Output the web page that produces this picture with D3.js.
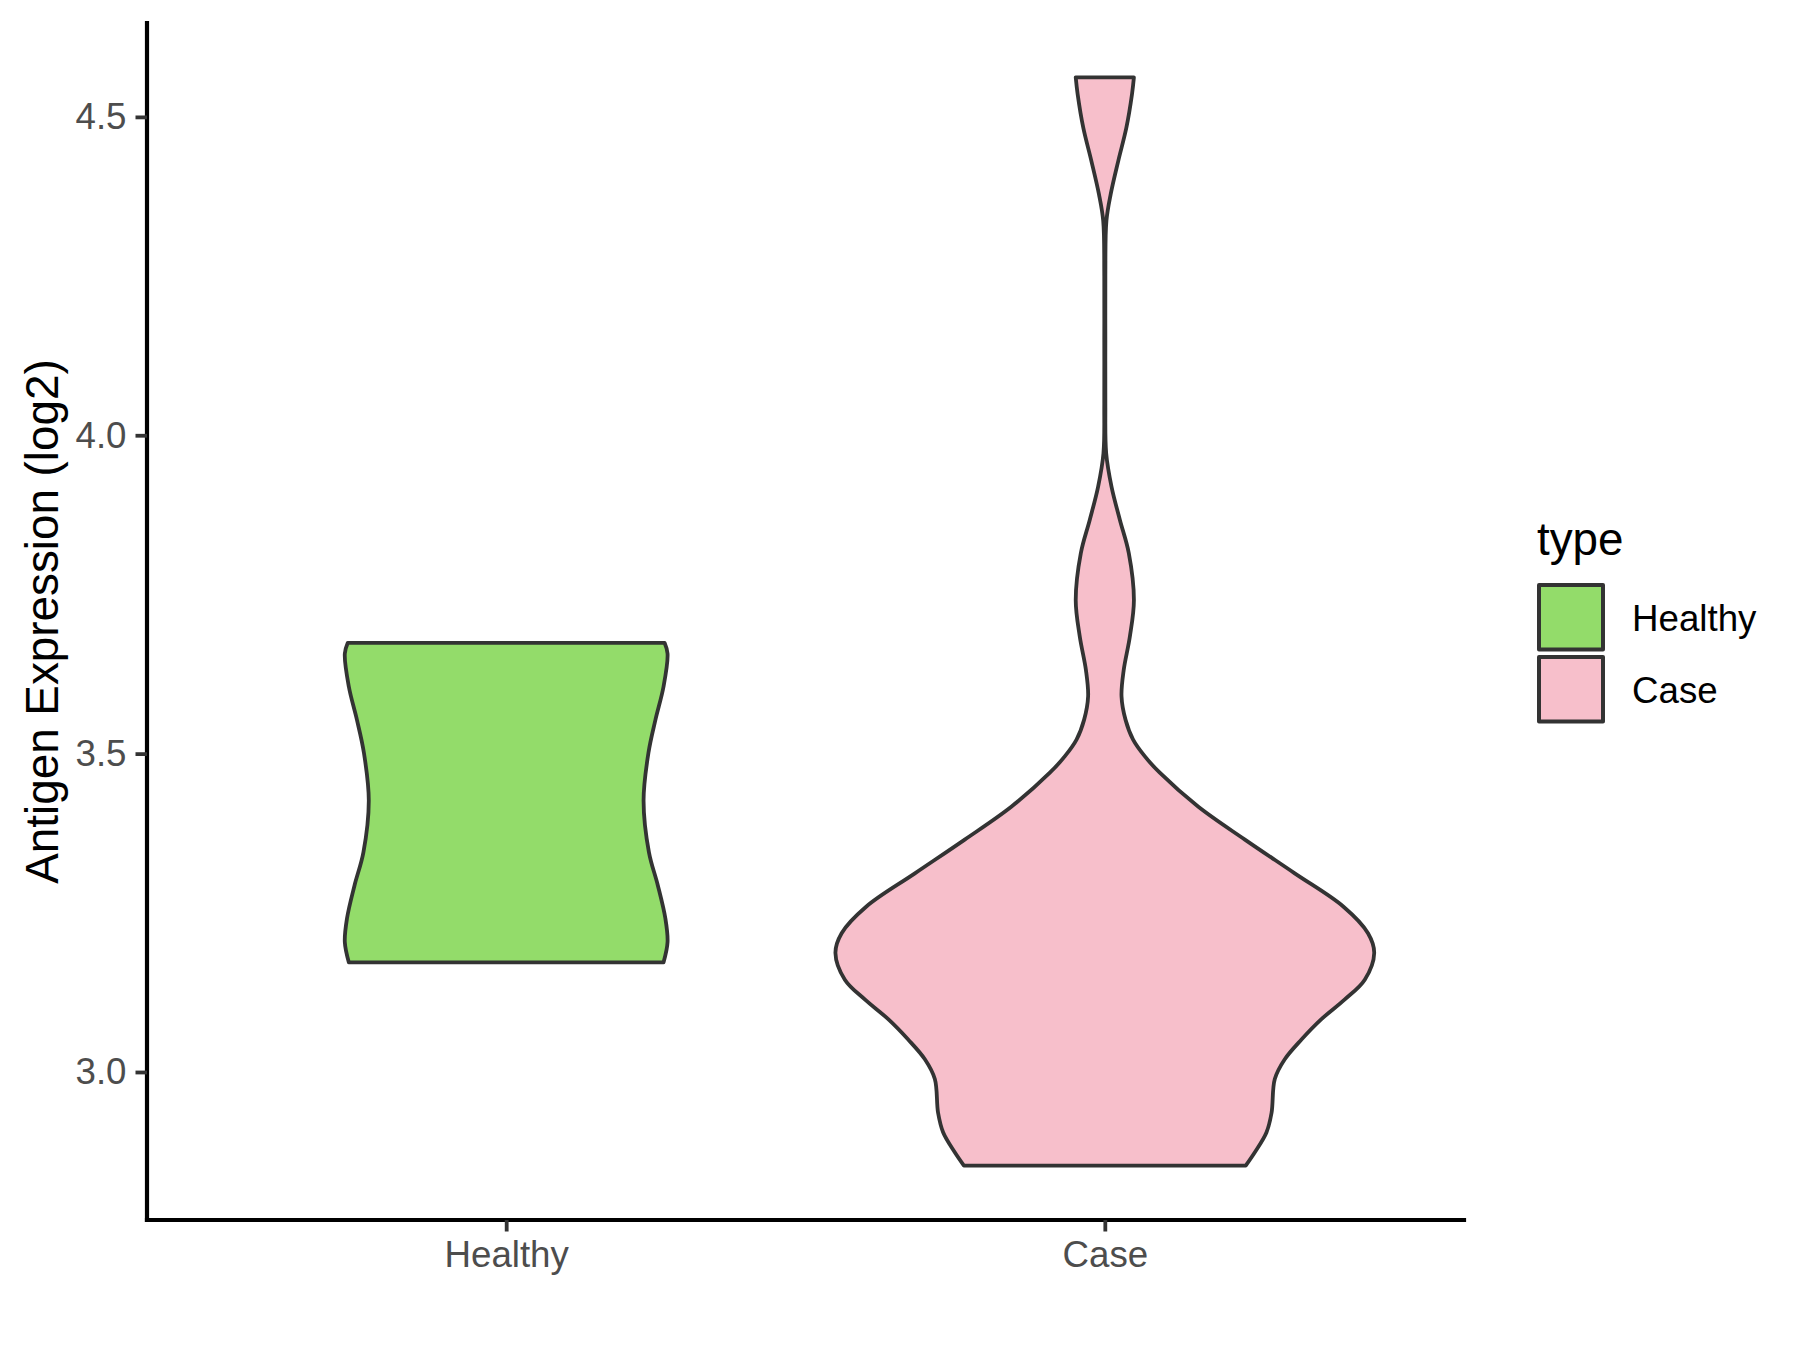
<!DOCTYPE html>
<html>
<head>
<meta charset="utf-8">
<script src="https://cdn.jsdelivr.net/npm/d3@7"></script>
<style>
  body { margin: 0; background: #fff; }
  text { font-family: "Liberation Sans", Arial, sans-serif; }
</style>
</head>
<body>
<svg width="1800" height="1350"></svg>
<script>
// Categories and fills
var groups = ["Healthy", "Case"];
var fills = ["#93DC6A", "#F7BFCB"];
var yTicks = [3.0, 3.5, 4.0, 4.5];

// Violin outlines: expression value and relative half-width
var healthyValues = [3.674, 3.657, 3.605, 3.553, 3.501, 3.426, 3.345, 3.293, 3.241, 3.204, 3.172];
var healthyWidths = [0.588, 0.599, 0.584, 0.554, 0.528, 0.510, 0.530, 0.563, 0.591, 0.599, 0.584];

var caseValues = [4.562, 4.536, 4.483, 4.431, 4.379, 4.337, 4.250, 4.150, 4.050, 3.972, 3.919, 3.867,
  3.815, 3.741, 3.684, 3.631, 3.590, 3.553, 3.522, 3.496, 3.470, 3.417, 3.365, 3.312, 3.260, 3.218,
  3.187, 3.145, 3.114, 3.083, 3.051, 3.020, 2.989, 2.936, 2.905, 2.874, 2.853];
var caseWidths = [0.108, 0.101, 0.080, 0.050, 0.022, 0.006, 0.002, 0.002, 0.002, 0.005, 0.025, 0.056,
  0.089, 0.108, 0.093, 0.070, 0.062, 0.077, 0.105, 0.148, 0.204, 0.346, 0.520, 0.705, 0.885, 0.977,
  1.000, 0.965, 0.891, 0.804, 0.730, 0.668, 0.631, 0.619, 0.600, 0.557, 0.523];

var profiles = [
  d3.zip(healthyValues, healthyWidths),
  d3.zip(caseValues, caseWidths)
];

// The svg
var svg = d3.select("svg"),
  width = +svg.attr("width"),
  height = +svg.attr("height");

svg.append("rect").attr("width", width).attr("height", height).attr("fill", "#fff");

var margin = {top: 23, right: 336, bottom: 130, left: 147};
var x0 = margin.left, x1 = width - margin.right,
  yTop = margin.top, yBottom = height - margin.bottom;

// Scales (ggplot style expansion: 5% continuous, 0.6 discrete)
var allValues = healthyValues.concat(caseValues);
var ext = d3.extent(allValues);
var pad = (ext[1] - ext[0]) * 0.05;
var y = d3.scaleLinear()
  .domain([ext[0] - pad, ext[1] + pad])
  .range([yBottom, yTop]);

var x = d3.scalePoint()
  .domain(groups)
  .range([x0, x1])
  .padding(0.6);

var halfMax = x.step() * 0.45;

// Violins
groups.forEach(function(g, i) {
  var cx = x(g);
  var area = d3.area()
    .y(function(d) { return y(d[0]); })
    .x0(function(d) { return cx - d[1] * halfMax; })
    .x1(function(d) { return cx + d[1] * halfMax; })
    .curve(d3.curveCatmullRom.alpha(0.5));
  svg.append("path")
    .datum(profiles[i])
    .attr("d", area)
    .attr("fill", fills[i])
    .attr("stroke", "#333333")
    .attr("stroke-width", 3.8)
    .attr("stroke-linejoin", "round");
});

// Axes
var yAxis = svg.append("g")
  .attr("transform", "translate(" + x0 + ",0)")
  .call(d3.axisLeft(y).tickValues(yTicks).tickFormat(d3.format(".1f"))
    .tickSize(11.5).tickSizeOuter(0).tickPadding(9));

var xAxis = svg.append("g")
  .attr("transform", "translate(0," + yBottom + ")")
  .call(d3.axisBottom(x).tickSize(11.5).tickSizeOuter(0).tickPadding(9));

// extend domain lines to full panel
yAxis.select(".domain").attr("d", "M0," + yBottom + "V" + yTop);
xAxis.select(".domain").attr("d", "M" + x0 + ",0H" + x1);

svg.selectAll(".domain")
  .attr("stroke", "#000")
  .attr("stroke-width", 4.2)
  .attr("stroke-linecap", "square");
svg.selectAll(".tick line")
  .attr("stroke", "#333333")
  .attr("stroke-width", 3.8);
svg.selectAll(".tick text")
  .attr("fill", "#4D4D4D")
  .style("font-size", "36.7px");

// Axis title
svg.append("text")
  .attr("transform", "translate(42," + ((yTop + yBottom) / 2) + ") rotate(-90)")
  .attr("text-anchor", "middle")
  .attr("dy", "0.35em")
  .style("font-size", "45.8px")
  .attr("fill", "#000")
  .text("Antigen Expression (log2)");

// Legend
var legend = svg.append("g").attr("transform", "translate(1537,0)");
legend.append("text")
  .attr("x", 0)
  .attr("y", 555)
  .style("font-size", "45.8px")
  .attr("fill", "#000")
  .text("type");

var keys = legend.selectAll("g.key")
  .data(groups)
  .enter()
  .append("g")
    .attr("class", "key")
    .attr("transform", function(d, i) { return "translate(0," + (583 + i * 72) + ")"; });

keys.append("rect")
  .attr("x", 2)
  .attr("y", 2)
  .attr("width", 64)
  .attr("height", 64.5)
  .attr("fill", function(d, i) { return fills[i]; })
  .attr("stroke", "#333333")
  .attr("stroke-width", 4)
  .attr("stroke-linejoin", "round");

keys.append("text")
  .attr("x", 95)
  .attr("y", 35)
  .attr("dy", "0.35em")
  .style("font-size", "36.7px")
  .attr("fill", "#000")
  .text(function(d) { return d; });
</script>
</body>
</html>
